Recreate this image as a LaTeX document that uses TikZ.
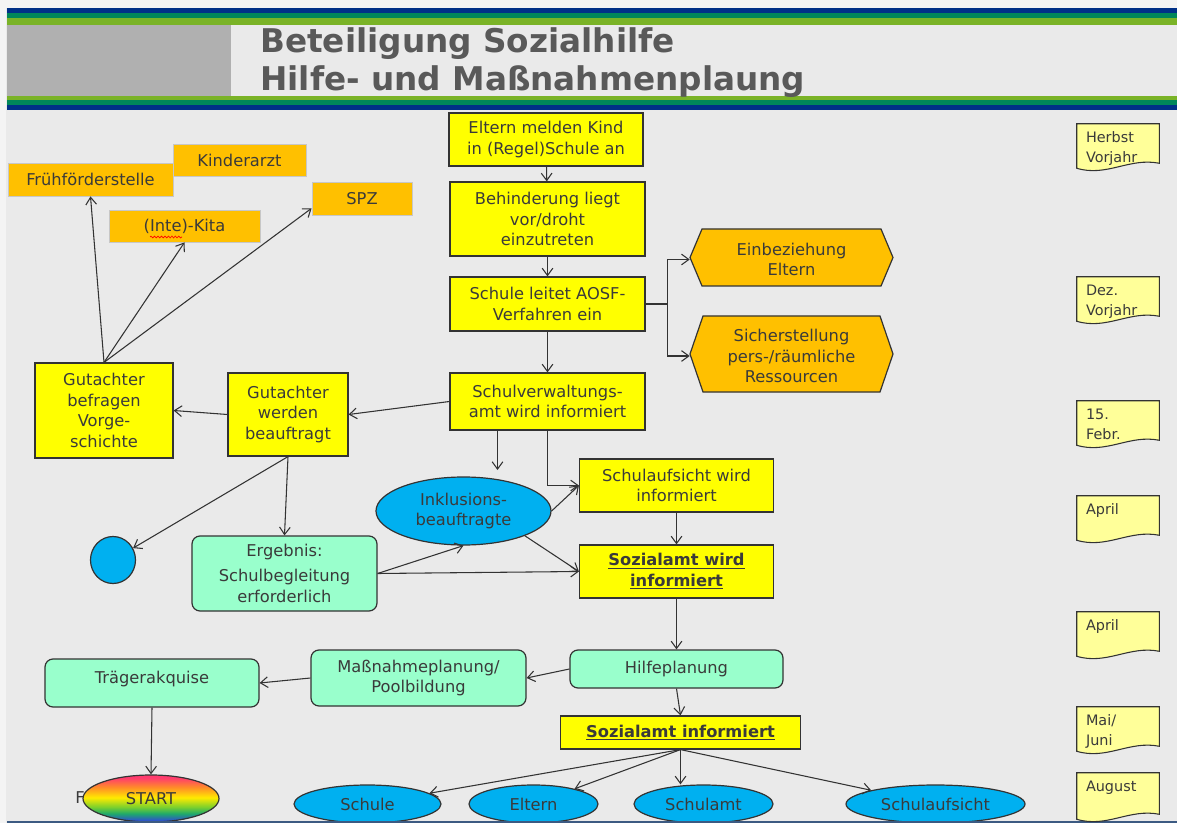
\documentclass[tikz,border=0pt]{standalone}
\usepackage{fontspec}
\setmainfont{DejaVu Sans}
\usetikzlibrary{arrows.meta,shapes.geometric,calc,decorations.pathmorphing}

\definecolor{bg}{HTML}{EAEAEA}
\definecolor{bgtop}{HTML}{F4F4F4}
\definecolor{barnavy}{HTML}{003087}
\definecolor{barteal}{HTML}{00875A}
\definecolor{bargreen}{HTML}{7AB327}
\definecolor{hdrgray}{HTML}{B0B0B0}
\definecolor{titlec}{HTML}{595959}
\definecolor{txt}{HTML}{3A3A3A}
\definecolor{linec}{HTML}{333333}
\definecolor{boxyellow}{HTML}{FFFF00}
\definecolor{boxorange}{HTML}{FFC000}
\definecolor{boxmint}{HTML}{99FFCC}
\definecolor{boxblue}{HTML}{00B0F0}
\definecolor{noteyellow}{HTML}{FFFF99}
\definecolor{footline}{HTML}{3C5A82}
\definecolor{rbred}{HTML}{FF3C6E}
\definecolor{rborange}{HTML}{FF8C28}
\definecolor{rbyellow}{HTML}{FFEA00}
\definecolor{rbgreen}{HTML}{7CD02C}
\definecolor{rbteal}{HTML}{1FAA6A}
\definecolor{rbblue}{HTML}{2E55C8}

% rainbow fill of the START ellipse (box of the path = 25bp..75bp)
\pgfdeclareverticalshading{rainbow}{100bp}{%
  color(0bp)=(rbblue); color(27bp)=(rbblue); color(34bp)=(rbteal);
  color(41bp)=(rbgreen); color(51bp)=(rbyellow); color(62bp)=(rborange);
  color(72bp)=(rbred); color(100bp)=(rbred)}

\newcommand\docnote[4]{% name, top, bottom, text
  \node[notebox, minimum height={(#3-#2)*0.75pt}] (#1) at (1118,{(#2+#3)/2}) {};
  \draw[notefill] (#1.north west) -- (#1.north east) -- ($(#1.south east)+(0,-8)$)
    .. controls ($(#1.south east)+(-30,-14)$) and ($(#1.south west)+(30,6)$)
    .. ($(#1.south west)+(0,-3)$) -- cycle;
  \node[notetext, anchor=north west] (#1-t) at ($(#1.north west)+(9,8)$) {#4};
}

\newcommand\hexshape[4]{% center, width, height, point depth
  \draw[hexfill] ($(#1)+({-#2/2},0)$) -- ($(#1)+({-#2/2+#4},{-#3/2})$)
    -- ($(#1)+({#2/2-#4},{-#3/2})$) -- ($(#1)+({#2/2},0)$)
    -- ($(#1)+({#2/2-#4},{#3/2})$) -- ($(#1)+({-#2/2+#4},{#3/2})$) -- cycle;
}

\begin{document}
\begin{tikzpicture}[x=0.75pt,y=-0.75pt,
  sz/.style 2 args={minimum width=#1*0.75pt, minimum height=#2*0.75pt},
  base/.style={inner sep=0pt, align=center, text=txt,
    font=\fontsize{12.2}{15.5}\selectfont},
  ybox/.style={base, rectangle, fill=boxyellow, draw=linec, line width=0.9pt},
  obox/.style={base, rectangle, fill=boxorange, draw=black!22, line width=0.6pt},
  mbox/.style={base, rectangle, rounded corners=6pt, fill=boxmint, draw=linec, line width=0.9pt},
  bell/.style={base, ellipse, fill=boxblue, draw=linec, line width=0.9pt},
  hexfill/.style={fill=boxorange, draw=linec, line width=0.9pt},
  hextext/.style={base, rectangle},
  notebox/.style={rectangle, inner sep=0pt, minimum width=82*0.75pt},
  notefill/.style={fill=noteyellow, draw=linec, line width=0.8pt},
  notetext/.style={inner sep=0pt, align=left, text=txt,
    font=\fontsize{10.8}{15}\selectfont},
  arr/.style={draw=linec, line width=0.8pt,
    -{Straight Barb[length=5.5pt,width=8pt,line width=0.8pt]}},
  ln/.style={draw=linec, line width=0.8pt},
  title/.style={inner sep=0pt, anchor=base west, text=titlec,
    font=\fontsize{24.5}{28}\selectfont\bfseries}]

\useasboundingbox (0,0) rectangle (1177,823);

% page background
\fill[bg] (0,0) rectangle (1177,823);
\fill[bgtop] (0,0) rectangle (1177,8);
\fill[bgtop] (0,0) rectangle (6,823);

% header bars
\fill[barnavy] (7,8) rectangle (1177,13.3);
\fill[barteal] (7,13.3) rectangle (1177,17.7);
\fill[bargreen] (7,17.7) rectangle (1177,25);
\fill[hdrgray] (7,25) rectangle (231,96);
\fill[bargreen] (7,96) rectangle (1177,100);
\fill[barteal] (7,100) rectangle (1177,105.3);
\fill[barnavy] (7,105.3) rectangle (1177,110);
\node[title] (title1) at (260,53) {Beteiligung Sozialhilfe};
\node[title] (title2) at (260,91) {Hilfe- und Maßnahmenplaung};

% main column
\node[ybox, sz={194}{53}] (n1) at (546,139.5) {Eltern melden Kind\\in (Regel)Schule an};
\node[ybox, sz={195}{74}] (n2) at (547.5,219) {Behinderung liegt\\vor/droht\\einzutreten};
\node[ybox, sz={195}{54}] (n3) at (547.5,304) {Schule leitet AOSF-\\Verfahren ein};
\node[ybox, sz={195}{57}] (n4) at (547.5,401.5) {Schulverwaltungs-\\amt wird informiert};

% hexagons
\coordinate (hA) at (791.5,257.5);
\coordinate (hB) at (791.5,354);
\hexshape{hA}{203}{57}{12}
\hexshape{hB}{203}{76}{13}
\node[hextext, sz={203}{57}] (hexA) at ($(hA)+(0,2)$) {Einbeziehung\\Eltern};
\node[hextext, sz={203}{76}] (hexB) at ($(hB)+(0,2)$) {Sicherstellung\\pers-/räumliche\\Ressourcen};

% consulted places
\node[obox, sz={133}{32}] (kinder) at (239.5,160) {Kinderarzt};
\node[obox, sz={165}{33}] (fruh) at (90.5,179.5) {Frühförderstelle};
\node[obox, sz={151}{32}] (kita) at (184.5,226) {(Inte)-Kita};
\draw[red, line width=0.5pt, decorate,
  decoration={snake, amplitude=0.7pt, segment length=2.6pt}] (150,237) -- (182,237);
\node[obox, sz={100}{33}] (spz) at (362,198.5) {SPZ};

% experts
\node[ybox, sz={138}{95}] (gut1) at (104,410.5) {Gutachter\\befragen\\Vorge-\\schichte};
\node[ybox, sz={120}{83}] (gut2) at (288,414.5) {Gutachter\\werden\\beauftragt};
\node[bell, sz={45}{47}] (circ) at (113,560) {};
\node[mbox, sz={185}{75}] (erg) at (284.5,573.5) {Ergebnis:\\[3pt]Schulbegleitung\\erforderlich};
\node[bell, sz={175}{68}] (inkl) at (463.5,511) {Inklusions-\\beauftragte};
\node[ybox, sz={194}{53}] (saufs) at (676.5,485.5) {Schulaufsicht wird\\informiert};
\node[ybox, sz={194}{53}, font=\fontsize{12.2}{15.5}\selectfont\bfseries] (soz1) at (676.5,571.5)
  {\underline{Sozialamt wird}\\\underline{informiert}};

% planning
\node[mbox, sz={213}{38}] (hilfe) at (676.5,669) {\raisebox{3pt}{Hilfeplanung}};
\node[mbox, sz={215}{56}] (mass) at (418.5,678) {Maßnahmeplanung/\\Poolbildung};
\node[mbox, sz={214}{48}] (traeger) at (152,683) {\raisebox{8pt}{Trägerakquise}};
\node[ybox, sz={240}{33}, font=\fontsize{12.2}{15.5}\selectfont\bfseries] (soz2) at (680.5,732.5)
  {\underline{Sozialamt informiert}};

% start and recipients
\node[base, anchor=west] (ftxt) at (75,798) {F};
\node[base, ellipse, shading=rainbow, draw=linec, line width=0.9pt, sz={136}{47}] (start) at (151,798.5) {START};
\node[bell, sz={147}{38}] (schule) at (367.5,804) {Schule};
\node[bell, sz={129}{38}] (eltern) at (533.5,804) {Eltern};
\node[bell, sz={139}{38}] (schulamt) at (703.5,804) {Schulamt};
\node[bell, sz={179}{38}] (schulaufs) at (935.5,804) {Schulaufsicht};

% footer line
\fill[footline] (7,820.5) rectangle (1177,823);

% time line notes
\docnote{herbst}{124}{171}{Herbst\\Vorjahr}
\docnote{dez}{277}{324}{Dez.\\Vorjahr}
\docnote{febr}{401}{448}{15.\\Febr.}
\docnote{april1}{496}{543}{April}
\docnote{april2}{612}{659}{April}
\docnote{maijuni}{707}{754}{Mai/\\Juni}
\docnote{august}{773}{822}{August}

% connectors: main column
\draw[arr] (n1) -- (n2);
\draw[arr] (n2) -- (n3);
\draw[arr] (n3) -- (n4);
\coordinate (split) at ($(n3.east)+(22,0)$);
\draw[ln] (n3.east) -- (split);
\draw[arr] (split) |- (hexA.west);
\draw[arr] (split) |- (hexB.west);

% connectors: experts
\draw[arr] (n4.west) -- (gut2.east);
\draw[arr] (gut2.west) -- (gut1.east);
\draw[arr] (gut1.north) -- (fruh.south);
\draw[arr] (gut1.north) -- (kita.south);
\draw[arr] (gut1.north) -- (spz.191);
\draw[arr] (gut2.south) -- (circ);
\draw[arr] (gut2.south) -- (erg.north);

% connectors: information flow
\coordinate (drop) at (497.5,470);
\draw[arr] (n4.south -| drop) -- (drop);
\draw[arr] (n4.south) |- (saufs.west);
\draw[arr] (inkl.east) -- (saufs.west);
\draw[arr] (inkl.-22) -- (soz1.west);
\draw[arr] (erg.east) -- (inkl.south);
\draw[arr] (erg.east) -- (soz1.west);
\draw[arr] (saufs) -- (soz1);
\draw[arr] (soz1.south) -- (hilfe.north);
\draw[arr] (hilfe.west) -- (mass.east);
\draw[arr] (mass.west) -- (traeger.east);
\draw[arr] (traeger.south) -- (start.north);
\draw[arr] (hilfe.south) -- (soz2.north);
\draw[arr] (soz2.south) -- (schule);
\draw[arr] (soz2.south) -- (eltern);
\draw[arr] (soz2.south) -- (soz2.south |- schulamt.north);
\draw[arr] (soz2.south) -- (schulaufs);
\end{tikzpicture}
\end{document}
